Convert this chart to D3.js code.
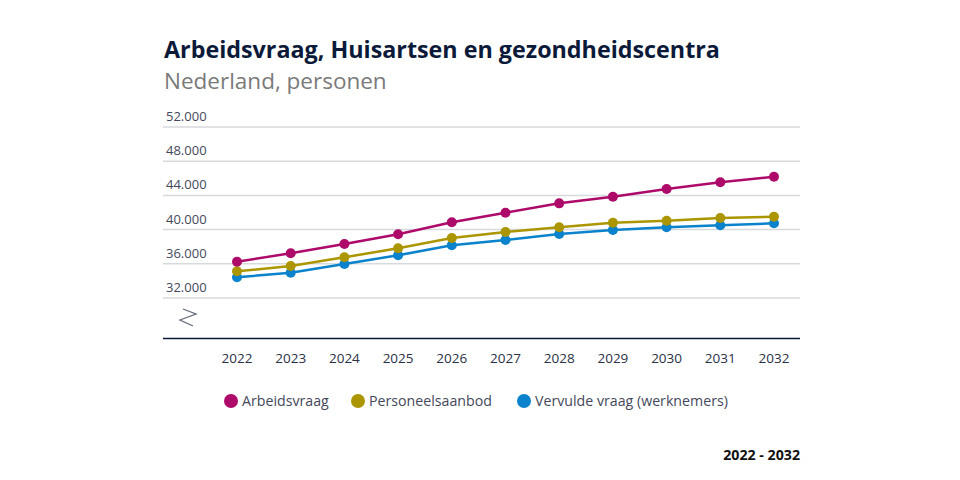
<!DOCTYPE html>
<html>
<head>
<meta charset="utf-8">
<script src="https://cdn.jsdelivr.net/npm/d3@7"></script>
<style>
  body { margin: 0; background: #fff; }
  text { font-family: "Open Sans", Lato, sans-serif; }
</style>
</head>
<body>
<script>
var years = [2022, 2023, 2024, 2025, 2026, 2027, 2028, 2029, 2030, 2031, 2032];
var arbeidsvraag = [36250, 37230, 38320, 39450, 40850, 41980, 43070, 43850, 44750, 45530, 46190];
var personeelsaanbod = [35120, 35740, 36760, 37810, 39020, 39720, 40270, 40810, 41040, 41360, 41510];
var vervuldeVraag = [34420, 34960, 35980, 36990, 38160, 38780, 39490, 39950, 40270, 40500, 40740];
var seriesNames = ["Arbeidsvraag", "Personeelsaanbod", "Vervulde vraag (werknemers)"];
var yTicks = [32000, 36000, 40000, 44000, 48000, 52000];

var colors = ["#ad0a6a", "#ab9600", "#0a82cc"];
var series = [arbeidsvraag, personeelsaanbod, vervuldeVraag];

var svg = d3.select("body").append("svg")
    .attr("width", 960)
    .attr("height", 480);

var left = 163, right = 800;

// title
svg.append("text")
    .attr("x", 164).attr("y", 58)
    .attr("font-size", "23.3px").attr("font-weight", "bold")
    .attr("fill", "#0c1a3a")
    .text("Arbeidsvraag, Huisartsen en gezondheidscentra");
svg.append("text")
    .attr("x", 164).attr("y", 89)
    .attr("font-size", "22.5px")
    .attr("fill", "#7a7a7a")
    .text("Nederland, personen");

var y = d3.scaleLinear()
    .domain([32000, 52000])
    .range([298, 127]);

var x = d3.scalePoint()
    .domain(years)
    .range([237, 774]);

// gridlines and tick labels
var fmt = d3.formatLocale({ decimal: ",", thousands: ".", grouping: [3] }).format(",");
yTicks.forEach((t) => {
    svg.append("line")
        .attr("x1", left).attr("x2", right)
        .attr("y1", y(t)).attr("y2", y(t))
        .attr("stroke", "#d8d9dd").attr("stroke-width", 1.5);
    svg.append("text")
        .attr("x", 166).attr("y", y(t) - 6)
        .attr("font-size", "13px").attr("fill", "#44485a")
        .text(fmt(t));
});

// axis break
svg.append("path")
    .attr("d", "M183,309 L196,314 L180,320 L193,326")
    .attr("fill", "none").attr("stroke", "#666b7a").attr("stroke-width", 1.3);

// baseline
svg.append("line")
    .attr("x1", left).attr("x2", right)
    .attr("y1", 338.5).attr("y2", 338.5)
    .attr("stroke", "#0c1a3a").attr("stroke-width", 1.5);

// x labels
svg.selectAll(".xl")
    .data(years)
    .enter()
    .append("text")
    .attr("x", (d) => x(d))
    .attr("y", 363)
    .attr("text-anchor", "middle")
    .attr("font-size", "13.5px").attr("fill", "#2a3045")
    .text((d) => d);

// lines drawn back to front
var line = d3.line()
    .x((d, i) => x(years[i]))
    .y((d) => y(d));

[2, 1, 0].forEach((k) => {
    var g = svg.append("g");
    g.append("path")
        .datum(series[k])
        .attr("d", line)
        .attr("fill", "none")
        .attr("stroke", colors[k])
        .attr("stroke-width", 2.5);
    g.selectAll("circle")
        .data(series[k])
        .enter()
        .append("circle")
        .attr("cx", (d, i) => x(years[i]))
        .attr("cy", (d) => y(d))
        .attr("r", 5)
        .attr("fill", colors[k]);
});

// legend
var legendX = [231, 358, 524];
seriesNames.forEach((name, i) => {
    svg.append("circle")
        .attr("cx", legendX[i]).attr("cy", 401)
        .attr("r", 7).attr("fill", colors[i]);
    svg.append("text")
        .attr("x", legendX[i] + 11).attr("y", 406)
        .attr("font-size", "14.2px").attr("fill", "#44485a")
        .text(name);
});

svg.append("text")
    .attr("x", 800).attr("y", 460)
    .attr("text-anchor", "end")
    .attr("font-size", "14.2px").attr("font-weight", "bold")
    .attr("fill", "#111")
    .text("2022 - 2032");
</script>
</body>
</html>
